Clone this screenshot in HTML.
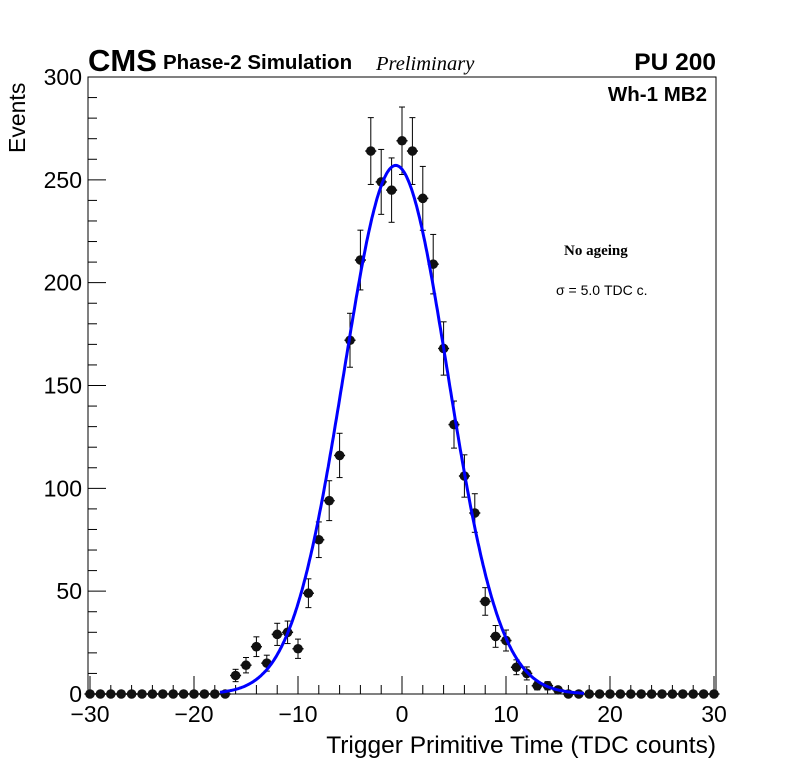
<!DOCTYPE html>
<html><head><meta charset="utf-8"><style>
body{margin:0;background:#fff}
svg text{font-family:"Liberation Sans",sans-serif}
</style></head><body>
<svg width="796" height="772" viewBox="0 0 796 772">
<g id="plot"></g>
<text x="88" y="71" font-size="31" font-weight="bold">CMS</text>
<text x="163" y="69" font-size="20.5" font-weight="bold">Phase-2 Simulation</text>
<text x="376" y="70" font-size="20.5" font-style="italic" style="font-family:'Liberation Serif',serif">Preliminary</text>
<text x="716" y="70" font-size="24.5" font-weight="bold" text-anchor="end">PU 200</text>
<text x="707" y="101" font-size="20.5" font-weight="bold" text-anchor="end">Wh-1 MB2</text>
<text x="564" y="255" font-size="15" font-weight="bold" style="font-family:'Liberation Serif',serif">No ageing</text>
<text x="556" y="295" font-size="14">σ = 5.0 TDC c.</text>
<text transform="translate(25,153) rotate(-90)" font-size="23">Events</text>
<text x="716" y="753" font-size="24.5" text-anchor="end">Trigger Primitive Time (TDC counts)</text>
</svg>
<script>
const binCenters=[-30,-29,-28,-27,-26,-25,-24,-23,-22,-21,-20,-19,-18,-17,-16,-15,-14,-13,-12,-11,-10,-9,-8,-7,-6,-5,-4,-3,-2,-1,0,1,2,3,4,5,6,7,8,9,10,11,12,13,14,15,16,17,18,19,20,21,22,23,24,25,26,27,28,29,30];
const counts=[0,0,0,0,0,0,0,0,0,0,0,0,0,0,9,14,23,15,29,30,22,49,75,94,116,172,211,264,249,245,269,264,241,209,168,131,106,88,45,28,26,13,10,4,4,2,0,0,0,0,0,0,0,0,0,0,0,0,0,0,0];
const fitAmp=257, fitMean=-0.6, fitSigma=5.0;
const xTicks=[-30,-20,-10,0,10,20,30];
const yTicks=[0,50,100,150,200,250,300];
const NS='http://www.w3.org/2000/svg';
const L=88,R=716,T=77,B=694;
const xs=v=>402+(v)*(714-90)/60;
const ys=v=>B-(v)*(B-T)/300;
const g=document.getElementById('plot');
function mk(t,a,p){const e=document.createElementNS(NS,t);for(const k in a)e.setAttribute(k,a[k]);(p||g).appendChild(e);return e;}
const frame=mk('rect',{x:L,y:T,width:R-L,height:B-T,fill:'none',stroke:'#000','stroke-width':1});


for(let v=-30;v<=30;v+=2){const maj=v%10===0;const t=mk('line',{x1:xs(v),x2:xs(v),y1:B,y2:B-(maj?18:9),stroke:'#000'});

}
xTicks.forEach(v=>{const t=mk('text',{x:xs(v),y:722,'font-size':23,'text-anchor':'middle'});t.textContent=(v<0?'\u2212'+(-v):v);

});
for(let v=0;v<=300;v+=10){const maj=v%50===0;const t=mk('line',{x1:L,x2:L+(maj?18:9),y1:ys(v),y2:ys(v),stroke:'#000'});

}
yTicks.forEach(v=>{const t=mk('text',{x:82,y:ys(v)+8,'font-size':23,'text-anchor':'end'});t.textContent=v;

});
binCenters.forEach((c,i)=>{const n=counts[i];const x=xs(c),y=ys(n);const grp=mk('g',{});


const e=Math.sqrt(n);
if(n>0){mk('line',{x1:x,x2:x,y1:ys(n+e),y2:ys(n-e),stroke:'#000'},grp);
mk('line',{x1:x-3,x2:x+3,y1:ys(n+e),y2:ys(n+e),stroke:'#000'},grp);
mk('line',{x1:x-3,x2:x+3,y1:ys(n-e),y2:ys(n-e),stroke:'#000'},grp);}
mk('line',{x1:x-5.5,x2:x+5.5,y1:y,y2:y,stroke:'#000','stroke-width':1.5},grp);
mk('circle',{cx:x,cy:y,r:4.8,fill:'#111'},grp);});
let d='';for(let v=-17.5;v<=17.5;v+=0.1){const f=fitAmp*Math.exp(-0.5*((v-fitMean)/fitSigma)**2);d+=(d?'L':'M')+xs(v).toFixed(1)+','+ys(f).toFixed(1);}
const fit=mk('path',{d:d,fill:'none',stroke:'#0000ff','stroke-width':3});


</script>
</body></html>
